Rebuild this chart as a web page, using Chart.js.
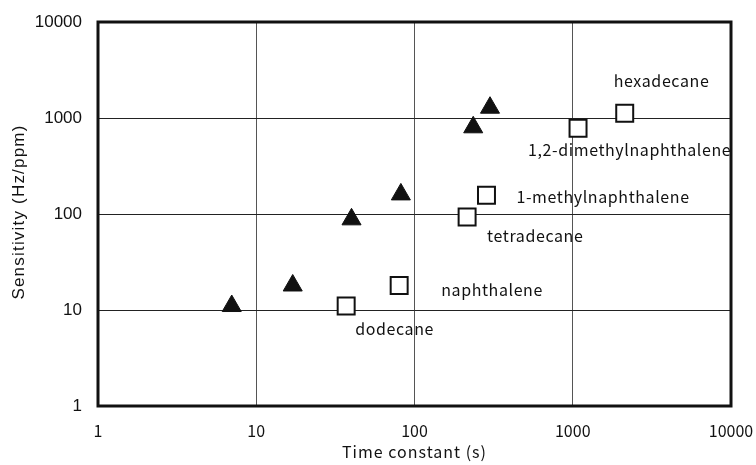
<!DOCTYPE html>
<html>
<head>
<meta charset="utf-8">
<script src="https://cdn.jsdelivr.net/npm/chart.js@4/dist/chart.umd.min.js"></script>
<style>
  html, body { margin: 0; padding: 0; background: #fff; }
  #wrap { width: 756px; height: 465px; }
</style>
</head>
<body>
<div id="wrap"><canvas id="c" width="756" height="465"></canvas></div>
<script>
// ---- data ----
const triangleX = [7, 17, 40, 82, 235, 300];
const triangleY = [11, 18, 88, 160, 800, 1280];

const compounds = ['dodecane', 'naphthalene', 'tetradecane', '1-methylnaphthalene', '1,2-dimethylnaphthalene', 'hexadecane'];
const squareX = [37, 80, 215, 285, 1080, 2130];
const squareY = [11, 18, 93, 157, 780, 1120];

const xTicks = [1, 10, 100, 1000, 10000];
const yTicks = [1, 10, 100, 1000, 10000];

const xTitle = 'Time constant (s)';
const yTitle = 'Sensitivity (Hz/ppm)';

// label placement (pixel offsets of text's left edge / middle from its square)
const labelOffsets = [[9, 23], [42, 4], [20, 19], [30, 2], [-50, 22], [-11, -32]];

const gothic = '"Noto Sans CJK JP", "Noto Sans", sans-serif';
const sans = '"Liberation Sans", Arial, sans-serif';

const toPts = (xs, ys) => xs.map((x, i) => ({x: x, y: ys[i]}));

const framePlugin = {
  id: 'frame',
  afterDatasetsDraw(chart) {
    const {ctx, chartArea: a} = chart;
    ctx.save();
    ctx.strokeStyle = '#111';
    ctx.lineWidth = 3;
    ctx.strokeRect(a.left, a.top, a.right - a.left, a.bottom - a.top);
    ctx.restore();
  }
};

const textPlugin = {
  id: 'texts',
  afterDatasetsDraw(chart) {
    const {ctx, chartArea: a} = chart;
    const meta = chart.getDatasetMeta(1);
    ctx.save();
    ctx.fillStyle = '#111';
    ctx.textBaseline = 'middle';
    // compound labels
    ctx.font = '16px ' + gothic;
    ctx.textAlign = 'left';
    try { ctx.letterSpacing = '0.6px'; } catch (e) {}
    meta.data.forEach((pt, i) => {
      const [dx, dy] = labelOffsets[i];
      ctx.fillText(compounds[i], pt.x + dx, pt.y + dy);
    });
    // x axis title
    ctx.textAlign = 'center';
    ctx.font = '16px ' + gothic;
    try { ctx.letterSpacing = '1px'; } catch (e) {}
    ctx.fillText(xTitle, (a.left + a.right) / 2, 452);
    // y axis title
    ctx.font = '17px ' + sans;
    try { ctx.letterSpacing = '1.2px'; } catch (e) {}
    ctx.translate(19, (a.top + a.bottom) / 2 - 2);
    ctx.rotate(-Math.PI / 2);
    ctx.fillText(yTitle, 0, 0);
    ctx.restore();
  }
};

new Chart(document.getElementById('c'), {
  type: 'scatter',
  data: {
    datasets: [
      {
        label: 'triangles',
        data: toPts(triangleX, triangleY),
        pointStyle: 'triangle',
        radius: 11,
        backgroundColor: '#111',
        borderColor: '#111',
        borderWidth: 1
      },
      {
        label: 'compounds',
        data: toPts(squareX, squareY),
        pointStyle: 'rect',
        radius: 12,
        backgroundColor: '#fff',
        borderColor: '#111',
        borderWidth: 2
      }
    ]
  },
  options: {
    responsive: false,
    animation: false,
    events: [],
    layout: { padding: { left: 0, right: 25, top: 22, bottom: 0 } },
    plugins: { legend: { display: false }, tooltip: { enabled: false } },
    scales: {
      x: {
        type: 'logarithmic',
        min: xTicks[0],
        max: xTicks[xTicks.length - 1],
        afterBuildTicks: s => { s.ticks = xTicks.map(v => ({value: v})); },
        afterFit: s => { s.height = 59; s.paddingLeft = 0; s.paddingRight = 0; },
        grid: { color: '#555', lineWidth: 1, drawTicks: false },
        border: { display: false },
        ticks: {
          padding: 15,
          color: '#111',
          font: { family: gothic, size: 16 },
          maxRotation: 0,
          autoSkip: false,
          callback: v => String(v)
        }
      },
      y: {
        type: 'logarithmic',
        min: yTicks[0],
        max: yTicks[yTicks.length - 1],
        afterBuildTicks: s => { s.ticks = yTicks.map(v => ({value: v})); },
        afterFit: s => { s.width = 98; s.paddingTop = 0; s.paddingBottom = 0; },
        grid: { color: '#222', lineWidth: 1, drawTicks: false },
        border: { display: false },
        ticks: {
          padding: 16,
          color: '#111',
          font: { family: sans, size: 17 },
          autoSkip: false,
          callback: v => String(v)
        }
      }
    }
  },
  plugins: [framePlugin, textPlugin]
});
</script>
</body>
</html>
